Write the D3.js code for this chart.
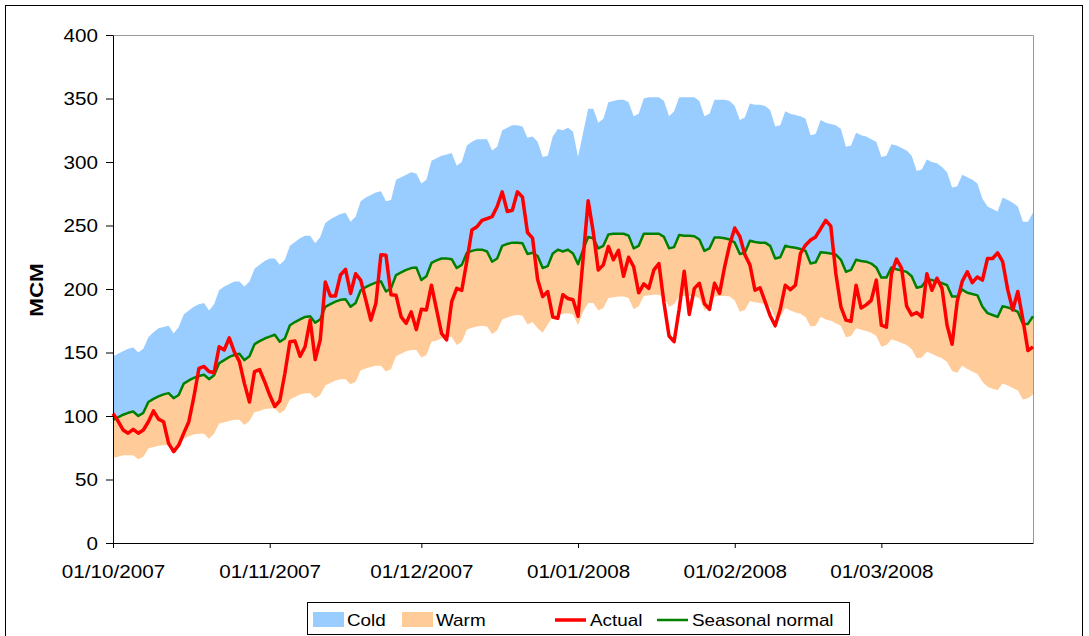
<!DOCTYPE html>
<html>
<head>
<meta charset="utf-8">
<script src="https://cdn.jsdelivr.net/npm/d3@7"></script>
<style>
  body { margin: 0; background: #fff; }
  svg text { font-family: "Liberation Sans", Arial, sans-serif; }
</style>
</head>
<body>
<div class="chart"></div>
<script>
const w = 1089;
const h = 636;
const plot = { left: 113, right: 1033, top: 35, bottom: 543 };
const stretch = 1.18; // the source text is drawn a bit wide

// daily categories, 01/10/2007 .. 31/03/2008
const firstDay = "2007-10-01";
const lastDay = "2008-03-31";
const tickDates = ["2007-10-01", "2007-11-01", "2007-12-01", "2008-01-01", "2008-02-01", "2008-03-01"];
const tickLabels = ["01/10/2007", "01/11/2007", "01/12/2007", "01/01/2008", "01/02/2008", "01/03/2008"];
const yTicks = [0, 50, 100, 150, 200, 250, 300, 350, 400];

// upper edge of the band (cold)
const cold = [
  147, 149, 151, 153, 154, 150, 153,
  162, 166, 169, 170, 171, 165, 170,
  180, 183, 186, 188, 189, 183, 188,
  199, 202, 204, 206, 206, 202, 206,
  216, 219, 222, 224, 224, 219, 223,
  234, 237, 240, 242, 242, 236, 241,
  252, 255, 257, 259, 260, 253, 257,
  269, 272, 274, 276, 277, 269, 270,
  286, 288, 290, 292, 291, 283, 286,
  301, 303, 305, 306, 307, 297, 300,
  313, 316, 318, 318, 318, 309, 312,
  325, 327, 329, 329, 328, 319, 320,
  316, 304, 305, 320, 326, 325, 327,
  324, 304, 323, 342, 342, 331, 334,
  347, 348, 349, 349, 347, 336, 338,
  350, 351, 351, 351, 348, 336, 340,
  351, 351, 351, 351, 348, 336, 338,
  349, 349, 349, 348, 344, 333, 335,
  346, 345, 345, 344, 341, 328, 329,
  340, 338, 337, 336, 334, 321, 322,
  333, 331, 330, 329, 326, 312, 313,
  323, 321, 320, 318, 316, 304, 305,
  314, 313, 311, 309, 305, 293, 294,
  302, 300, 299, 296, 292, 280, 281,
  290, 288, 286, 283, 271, 265, 263,
  261, 272, 270, 268, 265, 253, 253,
  260
];

// lower edge of the band (warm)
const warm = [
  67, 68, 69, 69, 69, 66, 68,
  74.5, 75.5, 76.5, 77, 77, 73, 76,
  82, 84, 85.5, 86, 86, 82, 86,
  94, 95, 96, 97, 97, 93, 96,
  103, 104, 105.5, 106, 106, 102, 105,
  113, 115, 117, 118, 118, 114, 116.5,
  124, 126, 128, 129, 129, 125, 127,
  136, 137.5, 138.5, 139.5, 139.5, 135, 137,
  147, 149, 151, 152, 152, 146, 148,
  158.5, 159.5, 161, 162, 162.5, 156, 158.5,
  168, 169.5, 170.5, 171, 170.5, 164.5, 167.5,
  176, 177.5, 179, 179.5, 179, 172, 174,
  169, 165.5, 172, 178, 179.5, 180.5, 181,
  180, 171.5, 182, 189, 189, 183, 185,
  193, 193.5, 194, 194, 193, 184, 186.5,
  194.5, 195, 195.5, 195.5, 193, 186, 188,
  194, 194.5, 194.5, 194.5, 192.5, 183.5, 185,
  194, 194.5, 194.5, 194, 191, 182, 183.5,
  190.5, 189.5, 189, 188, 186, 177, 178,
  185, 183, 181.5, 180.5, 178, 170.5, 171,
  178, 176, 175, 173, 171, 162, 163,
  169, 168, 167, 165.5, 163, 154.5, 156,
  160.5, 159, 157.5, 156, 152.5, 145.5, 146,
  150.5, 149, 147, 145.5, 142.5, 135.5, 134,
  139.5, 137, 135, 133, 127, 123, 121.5,
  120.5, 125.5, 124, 122, 120, 113, 114,
  117
];

const normal = [
  97, 99, 101, 102.5, 103.5, 100, 102.5,
  111, 113.5, 115.5, 117, 118, 114, 116.5,
  125.5, 128, 130, 131.5, 132.5, 129, 132,
  141.5, 144, 146.5, 148, 149, 144, 147,
  156.5, 159, 161, 162.5, 164, 158.5, 161,
  171.5, 174, 176, 178, 178.5, 173.5, 176,
  186, 188, 190, 191.5, 192, 186, 189,
  199, 201.5, 203.5, 205, 206, 198, 200.5,
  211, 213, 215, 216.5, 217, 207, 210,
  220.5, 222.5, 224, 224, 223.5, 216.5, 219,
  228.5, 230, 231, 231, 229.5, 221.5, 224,
  234, 235.5, 236.5, 236.5, 236, 227.5, 228.5,
  226, 216.5, 218, 228, 231, 229.5, 231,
  228, 219.5, 231, 241, 240, 232, 234,
  243, 243.5, 243.5, 243.5, 242, 232, 234,
  243.5, 243.5, 243.5, 243.5, 241, 232, 233,
  242.5, 242, 242, 241.5, 239, 230, 232,
  240.5, 240.5, 240, 239, 236.5, 227.5, 228.5,
  238, 237, 236.5, 236.5, 234, 224, 225,
  234, 233, 232.5, 231.5, 230, 220, 221,
  229, 228.5, 228, 227, 223, 213.5, 215,
  223, 222, 221.5, 220, 217, 209, 209,
  217, 215.5, 214.5, 213.5, 210, 201, 202,
  207.5, 207, 206, 204.5, 203, 194, 194,
  199.5, 197, 196, 195, 186, 181, 179.5,
  178, 186.5, 185.5, 184, 182, 172.5, 172.5,
  178.5
];

const actual = [
  102, 96, 89, 86.5, 89.5, 86.5, 89,
  95.5, 104, 97.5, 95.5, 78.5, 72, 77,
  86.5, 95.5, 115, 137.5, 139, 135, 134,
  154.5, 152, 161.5, 150.5, 143, 125.5, 111,
  135, 136.5, 127, 116.5, 107.5, 112, 133.5,
  158.5, 159, 147, 154.5, 175.5, 144.5, 160,
  205.5, 194.5, 194.5, 211, 215.5, 196.5, 212,
  207, 191.5, 175.5, 188.5, 227, 226.5, 195.5,
  195, 178, 173, 182, 168, 184, 183.5,
  203, 184, 165, 160, 190, 200.5, 199,
  222, 246.5, 249, 254, 255.5, 257, 265,
  276.5, 261, 262, 276.5, 272.5, 244.5, 240,
  207.5, 194, 198, 178, 177, 195.5, 192.5,
  191.5, 178.5, 224, 269.5, 245, 215, 219,
  233.5, 223, 230.5, 210, 225, 217.5, 197,
  204, 200.5, 215, 220, 189, 163, 158.5,
  184, 214, 180, 200.5, 204.5, 188.5, 184,
  204.5, 196.5, 217.5, 235, 248, 241.5, 227,
  219, 199, 201, 190, 179, 171, 184,
  203, 199.5, 203, 228, 234.5, 238.5, 241,
  247.5, 254, 249.5, 212, 186, 175.5, 174.5,
  203, 185, 187.5, 191, 207, 171.5, 170,
  212, 223.5, 216.5, 186.5, 179.5, 181.5, 178,
  212, 199, 208.5, 200.5, 171.5, 156.5, 190,
  206, 213.5, 205, 209.5, 207, 224, 224,
  228.5, 221.5, 199.5, 183.5, 198, 176, 151.5,
  154.5
];

const parse = d3.utcParse("%Y-%m-%d");
const days = d3.utcDay.range(parse(firstDay), d3.utcDay.offset(parse(lastDay), 1));
const rows = days.map((d, i) => ({
  date: d, cold: cold[i], warm: warm[i], normal: normal[i], actual: actual[i]
}));

const svg = d3.select(".chart").append("svg")
  .attr("width", w)
  .attr("height", h);

// outer frame
svg.append("rect")
  .attr("x", 5.5).attr("y", 5.5)
  .attr("width", 1077).attr("height", 700)
  .attr("fill", "none").attr("stroke", "#000");

const x = d3.scaleUtc()
  .domain([parse(firstDay), parse(lastDay)])
  .range([plot.left, plot.right]);
const y = d3.scaleLinear()
  .domain([0, 400])
  .range([plot.bottom, plot.top]);

// bands
const coldArea = d3.area()
  .x((d) => x(d.date))
  .y0((d) => y(d.normal))
  .y1((d) => y(d.cold));
const warmArea = d3.area()
  .x((d) => x(d.date))
  .y0((d) => y(d.warm))
  .y1((d) => y(d.normal));

svg.append("path").datum(rows).attr("d", coldArea).attr("fill", "#99ccff");
svg.append("path").datum(rows).attr("d", warmArea).attr("fill", "#ffcc99");

// plot frame top/right
svg.append("path")
  .attr("d", `M${plot.left},${plot.top + 0.5}H${plot.right + 0.5}V${plot.bottom}`)
  .attr("fill", "none").attr("stroke", "#999");

// lines
const line = (key) => d3.line().x((d) => x(d.date)).y((d) => y(d[key]));
svg.append("path").datum(rows).attr("d", line("normal"))
  .attr("fill", "none").attr("stroke", "#008000").attr("stroke-width", 2.5)
  .attr("stroke-linejoin", "round");
svg.append("path").datum(rows).attr("d", line("actual"))
  .attr("fill", "none").attr("stroke", "#ff0000").attr("stroke-width", 3.5)
  .attr("stroke-linejoin", "round");

// y axis
const yAxis = svg.append("g")
  .attr("transform", `translate(${plot.left},0)`)
  .call(d3.axisLeft(y).tickValues(yTicks).tickSize(7).tickSizeOuter(0));
yAxis.attr("font-size", 17.5).attr("font-family", null);
yAxis.selectAll("line").attr("stroke", "#000");
yAxis.select(".domain").attr("stroke", "#000");
yAxis.selectAll("text")
  .attr("x", 0).attr("dy", null)
  .attr("fill", "#000")
  .attr("transform", `translate(-15,6) scale(${stretch},1)`);

// x axis
const xAxis = svg.append("g")
  .attr("transform", `translate(0,${plot.bottom})`)
  .call(d3.axisBottom(x)
    .tickValues(tickDates.map(parse))
    .tickFormat((d, i) => tickLabels[i])
    .tickSize(5).tickSizeOuter(0));
xAxis.attr("font-size", 17.5).attr("font-family", null);
xAxis.selectAll("line").attr("stroke", "#000");
xAxis.select(".domain").attr("stroke", "#000");
xAxis.selectAll("text")
  .attr("y", 0).attr("dy", null)
  .attr("fill", "#000")
  .attr("transform", `translate(0,35) scale(${stretch},1)`);

// y title
svg.append("text")
  .attr("transform", `translate(43,290) rotate(-90) scale(${stretch},1)`)
  .attr("text-anchor", "middle")
  .attr("font-size", 19)
  .attr("font-weight", "bold")
  .text("MCM");

// legend
const legendItems = [
  { name: "Cold", kind: "box", color: "#99ccff", x: 313, tx: 347 },
  { name: "Warm", kind: "box", color: "#ffcc99", x: 402, tx: 436 },
  { name: "Actual", kind: "line", color: "#ff0000", x: 555, tx: 590, width: 3.5 },
  { name: "Seasonal normal", kind: "line", color: "#008000", x: 657, tx: 692, width: 2.5 }
];
const legend = svg.append("g").attr("id", "legend");
legend.append("rect")
  .attr("x", 307.5).attr("y", 602.5)
  .attr("width", 542).attr("height", 32)
  .attr("fill", "#fff").attr("stroke", "#000");
legendItems.forEach((d) => {
  if (d.kind === "box") {
    legend.append("rect")
      .attr("x", d.x).attr("y", 612)
      .attr("width", 31).attr("height", 15)
      .attr("fill", d.color);
  } else {
    legend.append("line")
      .attr("x1", d.x).attr("x2", d.x + 31)
      .attr("y1", 620).attr("y2", 620)
      .attr("stroke", d.color).attr("stroke-width", d.width);
  }
  legend.append("text")
    .attr("transform", `translate(${d.tx},626) scale(${stretch},1)`)
    .attr("font-size", 16)
    .text(d.name);
});
</script>
</body>
</html>
